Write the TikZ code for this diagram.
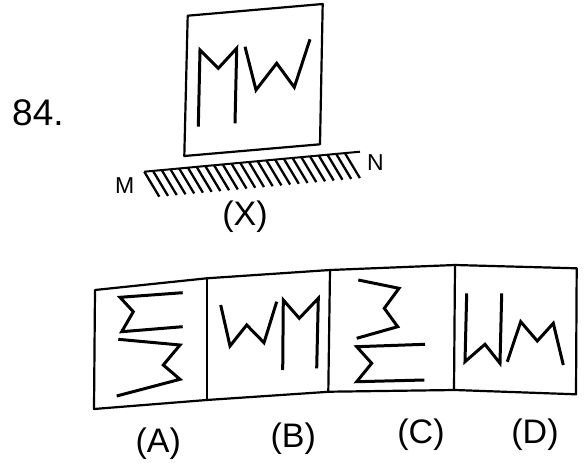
\documentclass[tikz,border=0pt]{standalone}
\usepackage{fontspec}
\setmainfont{Liberation Sans}
\usetikzlibrary{calc}

\begin{document}
\begin{tikzpicture}[
  x=1pt, y=-1pt,
  frame/.style={draw, line width=2.2pt, line join=round},
  glyph/.style={draw, line width=3pt, line join=miter},
  hatch/.style={line width=2.3pt},
  lab/.style={font=\fontsize{34}{36}\selectfont, inner sep=0pt, anchor=base},
  small/.style={font=\fontsize{23}{25}\selectfont, inner sep=0pt, anchor=base west}
]
\useasboundingbox (0,0) rectangle (584,463);
% question number
\node[font=\fontsize{37}{39}\selectfont, inner sep=0pt, anchor=base west] (num) at (12,125) {84.};
% figure (X)
\path[frame] (187.7,15.7) -- (322.7,4) -- (320,144.3) -- (184.3,156) -- cycle;
\path[glyph] (198.3,126.7) -- (200,50) -- (218.3,68.3) -- (236.7,48.3) -- (235,123.3);
\path[glyph] (245,46.7) -- (256,90) -- (276.7,63.3) -- (294.3,87.3) -- (310,39.3);
% mirror MN
\coordinate (mL) at (144.3,171.7);
\coordinate (mR) at (360,151.7);
\draw[line width=2pt] (mL) -- (mR);
\foreach \i in {0,...,23}
  \draw[hatch] ($(mL)!{\i/23*0.93}!(mR)$) -- ++(15,25);
\node[small] (labM) at (115,193.3) {M};
\node[small] (labN) at (367,170) {N};
\node[lab] (labX) at (245,225.5) {(X)};
% answer figures
\path[frame] (95,290) -- (206.7,278.3) -- (330,270) -- (455,265) -- (576.7,268.3)
  -- (576,394.3) -- (455,390) -- (330,391.7) -- (206.7,400) -- (94,409) -- cycle;
\path[frame] (206.7,278.3) -- (206.7,400);
\path[frame] (330,270) -- (328.3,391.7);
\path[frame] (455,265) -- (454,390);
% (A)
\path[glyph] (182.7,292.7) -- (120,297.3) -- (133.3,311.7) -- (121.7,331.7) -- (182.7,326.7);
\path[glyph] (118.3,339.3) -- (180,345) -- (163.3,365) -- (180,379.3) -- (116.7,396);
% (B)
\path[glyph] (220.7,305) -- (230,346) -- (246.7,325) -- (264,342.7) -- (276.7,301.7);
\path[glyph] (282.7,370) -- (283.3,300) -- (299.3,318.3) -- (318.3,298.3) -- (316.7,368.3);
% (C)
\path[glyph] (358.3,280) -- (399,288.3) -- (384.3,308.3) -- (397.7,326.7) -- (356.7,338.3);
\path[glyph] (425,344.3) -- (356.7,346.7) -- (371.7,363.3) -- (356.7,381.7) -- (424.3,380);
% (D)
\path[glyph] (466.7,293.3) -- (465,361.7) -- (485,344.3) -- (500,363.3) -- (501.7,293.3);
\path[glyph] (507.3,361.7) -- (520.7,321.7) -- (537.3,341) -- (553.3,323.3) -- (563.3,365);
\node[lab] (optA) at (158.3,452) {(A)};
\node[lab] (optB) at (293.3,447) {(B)};
\node[lab] (optC) at (421,443.5) {(C)};
\node[lab] (optD) at (535,443.5) {(D)};
\end{tikzpicture}
\end{document}
